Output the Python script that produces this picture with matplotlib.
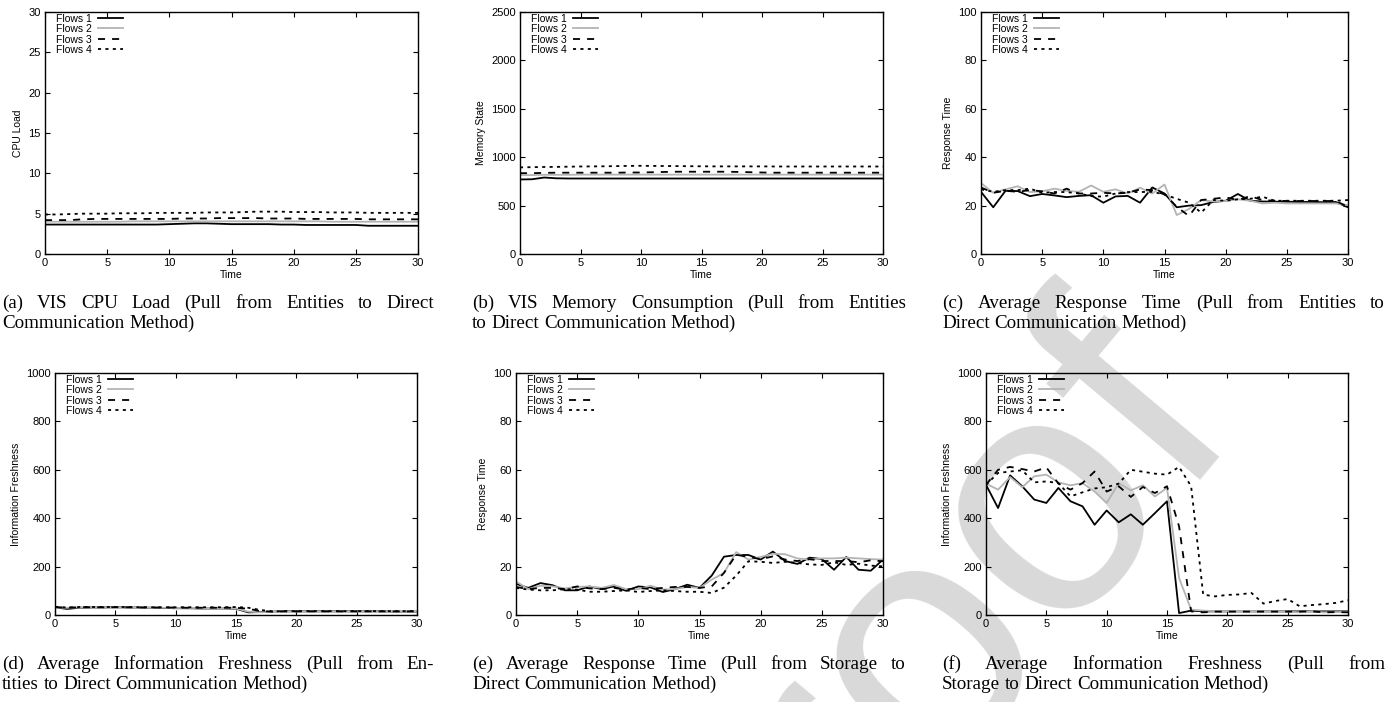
import matplotlib
matplotlib.use("Agg")
import matplotlib.pyplot as plt
import numpy as np

# ---------------- data ----------------
time = list(range(31))
series_labels = ["Flows 1", "Flows 2", "Flows 3", "Flows 4"]

# (a) CPU load
cpu_f1 = [3.65, 3.65, 3.65, 3.65, 3.65, 3.65, 3.65, 3.65, 3.65, 3.65, 3.7, 3.75, 3.8, 3.8, 3.75, 3.7,
          3.7, 3.7, 3.7, 3.65, 3.65, 3.6, 3.6, 3.6, 3.6, 3.6, 3.5, 3.5, 3.5, 3.5, 3.5]
cpu_f2 = [4.0, 4.0, 4.0, 4.0, 4.0, 4.0, 4.0, 4.05, 4.05, 4.05, 4.05, 4.05, 4.05, 4.05, 4.05, 4.05,
          4.05, 4.05, 4.05, 4.05, 4.05, 4.05, 4.05, 4.0, 4.0, 4.0, 4.0, 4.0, 4.0, 4.0, 4.0]
cpu_f3 = [4.2, 4.2, 4.2, 4.3, 4.35, 4.35, 4.35, 4.35, 4.35, 4.35, 4.35, 4.4, 4.4, 4.4, 4.45, 4.45,
          4.45, 4.45, 4.4, 4.4, 4.4, 4.35, 4.35, 4.35, 4.35, 4.35, 4.3, 4.3, 4.3, 4.3, 4.3]
cpu_f4 = [4.9, 4.9, 4.95, 5.0, 5.0, 5.0, 5.05, 5.05, 5.05, 5.1, 5.1, 5.1, 5.1, 5.15, 5.15, 5.15,
          5.2, 5.25, 5.25, 5.25, 5.2, 5.2, 5.2, 5.15, 5.15, 5.15, 5.1, 5.1, 5.1, 5.1, 5.1]

# (b) memory
mem_f1 = [770, 772, 790, 782, 780, 780, 780, 780, 780, 780, 780, 780, 780, 780, 780, 780,
          780, 780, 780, 780, 780, 780, 780, 780, 780, 780, 780, 780, 780, 780, 780]
mem_f2 = [815, 815, 818, 818, 818, 820, 820, 820, 820, 820, 820, 820, 820, 820, 820, 820,
          820, 820, 820, 820, 820, 820, 820, 820, 820, 820, 820, 820, 820, 820, 820]
mem_f3 = [835, 835, 838, 840, 840, 840, 840, 840, 840, 842, 842, 845, 848, 850, 850, 850,
          850, 850, 848, 845, 842, 840, 840, 840, 840, 840, 840, 840, 840, 840, 840]
mem_f4 = [895, 897, 899, 900, 902, 904, 905, 906, 908, 910, 911, 910, 909, 908, 907, 906,
          905, 905, 905, 905, 905, 904, 904, 904, 904, 904, 904, 904, 904, 904, 904]

# (c) response time (pull from entities)
rtc_f1 = [25.7, 19.3, 26.1, 26.0, 23.9, 24.8, 24.2, 23.5, 24.0, 24.3, 21.2, 23.8, 24.0, 21.2, 27.5, 25.0,
          19.3, 20.0, 20.2, 21.5, 22.0, 24.8, 22.0, 21.7, 21.6, 21.6, 21.5, 21.5, 21.4, 21.5, 19.3]
rtc_f2 = [29.3, 25.3, 26.7, 28.0, 25.6, 25.9, 27.0, 26.1, 25.7, 28.3, 25.7, 26.7, 25.0, 27.4, 25.0, 28.7,
          16.1, 18.6, 22.3, 21.7, 21.9, 22.6, 22.0, 20.9, 21.2, 20.9, 20.9, 20.9, 20.9, 20.9, 20.2]
rtc_f3 = [27.5, 25.3, 26.1, 25.7, 26.4, 25.9, 25.0, 27.0, 25.0, 25.0, 25.3, 25.0, 25.3, 26.7, 26.4, 24.6,
          19.5, 15.7, 22.3, 22.8, 23.4, 22.3, 23.9, 22.3, 22.0, 21.9, 21.9, 21.9, 21.9, 21.9, 19.5]
rtc_f4 = [26.7, 25.7, 26.4, 26.4, 27.0, 25.3, 25.6, 25.6, 25.0, 23.9, 23.7, 25.0, 25.6, 25.6, 25.7, 24.6,
          22.8, 21.2, 17.1, 22.3, 22.0, 22.6, 22.8, 23.7, 22.0, 22.0, 22.0, 22.0, 22.0, 22.0, 22.3]

# (d) information freshness (pull from entities)
ifd_f1 = [32, 25, 30, 31, 31, 32, 31, 31, 30, 29, 28, 28, 27, 27, 27, 26,
          11, 12, 14, 15, 15, 15, 15, 15, 15, 15, 15, 15, 14, 14, 14]
ifd_f2 = [31, 30, 31, 31, 31, 31, 31, 31, 30, 30, 29, 29, 29, 28, 28, 27,
          14, 11, 13, 14, 14, 14, 14, 14, 14, 14, 14, 14, 14, 14, 14]
ifd_f3 = [33, 30, 32, 32, 32, 32, 32, 31, 31, 31, 31, 30, 30, 30, 30, 30,
          26, 16, 14, 15, 15, 15, 15, 15, 15, 15, 15, 15, 15, 15, 15]
ifd_f4 = [34, 31, 33, 33, 33, 33, 33, 32, 32, 32, 32, 32, 32, 32, 32, 33,
          30, 21, 15, 16, 16, 16, 16, 16, 16, 16, 16, 16, 16, 16, 16]

# (e) response time (pull from storage)
rte_f1 = [12.9, 11.2, 13.2, 12.3, 10.2, 10.2, 11.8, 10.7, 11.8, 10.0, 11.8, 11.4, 9.5, 10.7, 12.5, 11.2,
          16.3, 24.1, 24.8, 24.8, 22.9, 26.2, 22.3, 21.1, 23.7, 23.1, 18.7, 24.0, 18.7, 18.3, 22.9]
rte_f2 = [13.9, 10.7, 12.1, 11.8, 11.0, 11.6, 11.8, 11.2, 12.4, 10.7, 10.7, 12.1, 10.5, 10.7, 11.6, 11.2,
          14.6, 17.4, 26.0, 22.9, 24.0, 25.3, 25.1, 23.4, 22.9, 23.4, 23.4, 23.7, 23.4, 23.1, 22.9]
rte_f3 = [11.6, 10.7, 11.2, 11.2, 10.7, 11.8, 11.0, 10.7, 11.2, 10.5, 11.2, 10.7, 11.2, 11.6, 11.6, 11.2,
          11.8, 17.4, 24.9, 24.0, 23.1, 24.2, 22.9, 22.3, 23.1, 22.3, 22.3, 22.3, 21.8, 22.6, 22.2]
rte_f4 = [11.2, 10.5, 10.2, 10.2, 10.7, 10.5, 9.6, 9.6, 9.9, 10.2, 9.5, 9.9, 10.2, 9.9, 9.6, 9.6,
          9.1, 11.3, 16.3, 22.2, 22.0, 21.5, 22.0, 21.5, 20.9, 20.7, 21.8, 20.7, 21.2, 20.4, 20.1]

# (f) information freshness (pull from storage)
iff_f1 = [538, 442, 577, 532, 477, 463, 525, 470, 449, 373, 432, 383, 416, 373, 421, 470,
          8, 18, 15, 15, 15, 15, 15, 15, 15, 15, 15, 15, 15, 15, 15]
iff_f2 = [543, 518, 570, 528, 573, 580, 548, 536, 545, 510, 463, 545, 515, 536, 490, 525,
          153, 22, 18, 16, 16, 16, 16, 15, 15, 14, 11, 14, 11, 12, 13]
iff_f3 = [538, 600, 612, 603, 593, 610, 543, 518, 545, 593, 510, 532, 488, 529, 504, 532,
          366, 15, 11, 14, 14, 14, 14, 14, 14, 14, 14, 15, 11, 12, 11]
iff_f4 = [538, 587, 593, 598, 548, 552, 545, 490, 507, 523, 528, 543, 600, 592, 584, 580,
          612, 532, 84, 77, 83, 85, 91, 47, 58, 66, 36, 41, 45, 50, 61]

panels = [
    dict(series=[cpu_f1, cpu_f2, cpu_f3, cpu_f4], ylabel="CPU Load", ylim=30, ystep=5,
         box=(45, 12, 418, 254),
         caption=["(a) VIS CPU Load (Pull from Entities to Direct", "Communication Method)"],
         cap_x=(2, 434)),
    dict(series=[mem_f1, mem_f2, mem_f3, mem_f4], ylabel="Memory State", ylim=2500, ystep=500,
         box=(520, 12, 883, 254),
         caption=["(b) VIS Memory Consumption (Pull from Entities", "to Direct Communication Method)"],
         cap_x=(472, 906)),
    dict(series=[rtc_f1, rtc_f2, rtc_f3, rtc_f4], ylabel="Response Time", ylim=100, ystep=20,
         box=(981, 12, 1348, 254),
         caption=["(c) Average Response Time (Pull from Entities to", "Direct Communication Method)"],
         cap_x=(942, 1385)),
    dict(series=[ifd_f1, ifd_f2, ifd_f3, ifd_f4], ylabel="Information Freshness", ylim=1000, ystep=200,
         box=(55, 373, 417, 615),
         caption=["(d) Average Information Freshness (Pull from En-", "tities to Direct Communication Method)"],
         cap_x=(2, 434)),
    dict(series=[rte_f1, rte_f2, rte_f3, rte_f4], ylabel="Response Time", ylim=100, ystep=20,
         box=(516, 373, 883, 615),
         caption=["(e) Average Response Time (Pull from Storage to", "Direct Communication Method)"],
         cap_x=(472, 906)),
    dict(series=[iff_f1, iff_f2, iff_f3, iff_f4], ylabel="Information Freshness", ylim=1000, ystep=200,
         box=(986, 373, 1348, 615),
         caption=["(f) Average Information Freshness (Pull from", "Storage to Direct Communication Method)"],
         cap_x=(942, 1385)),
]

# ---------------- style ----------------
W, H = 1388, 702
DPI = 100
LW = 1.3
styles = [
    dict(color="black", lw=LW, ls="-"),
    dict(color="#b4b4b4", lw=LW, ls="-"),
    dict(color="black", lw=LW, ls=(0, (3.9, 3.9))),
    dict(color="black", lw=LW, ls=(0, (1.7, 2.4))),
]
SANS = "Liberation Sans"
SERIF = "Liberation Serif"
FS = 7.5
TICK_FS = 8
CAP_FS = 13.7

fig = plt.figure(figsize=(W / DPI, H / DPI), dpi=DPI)
fig.patch.set_facecolor("white")

# watermark (behind the plots)
fig.text(710 / W, 1 - 1032 / H, "Proof", fontsize=245, family=SANS, color="#d9d9d9",
         rotation=50, rotation_mode="anchor", ha="left", va="baseline", zorder=0)


def px_rect(box):
    x0, y0, x1, y1 = box
    return [x0 / W, 1 - y1 / H, (x1 - x0) / W, (y1 - y0) / H]


for p in panels:
    ax = fig.add_axes(px_rect(p["box"]))
    ax.set_facecolor("none")
    ax.set_zorder(2)
    for s, lab, st in zip(p["series"], series_labels, styles):
        ax.plot(time, s, label=lab, color=st["color"], lw=st["lw"], linestyle=st["ls"])
    ax.set_xlim(0, 30)
    ax.set_ylim(0, p["ylim"])
    ax.set_xticks(np.arange(0, 31, 5))
    ax.set_yticks(np.arange(0, p["ylim"] + 1, p["ystep"]))
    ax.tick_params(direction="in", top=True, right=True, length=3.5, width=0.8,
                   labelsize=TICK_FS, pad=3)
    for lbl in ax.get_xticklabels() + ax.get_yticklabels():
        lbl.set_family(SANS)
    for sp in ax.spines.values():
        sp.set_linewidth(1.0)
    ax.set_xlabel("Time", fontsize=FS, family=SANS, labelpad=1)
    ax.set_ylabel(p["ylabel"], fontsize=FS, family=SANS, labelpad=4)
    ax.legend(loc="upper left", bbox_to_anchor=(0.025, 1.0), markerfirst=False, frameon=False,
              handlelength=2.4, handletextpad=0.6, labelspacing=0.05,
              borderaxespad=0.0, borderpad=0.15, prop=dict(family=SANS, size=FS))

# ---------------- justified captions ----------------
renderer = fig.canvas.get_renderer()


def caption_line(text, x0, x1, y_base, justify):
    words = text.split(" ")
    objs = []
    widths = []
    for w in words:
        t = fig.text(0, 0, w, fontsize=CAP_FS, family=SERIF, ha="left", va="baseline")
        widths.append(t.get_window_extent(renderer).width)
        objs.append(t)
    if justify and len(words) > 1:
        gap = (x1 - x0 - sum(widths)) / (len(words) - 1)
    else:
        gap = CAP_FS * DPI / 72 * 0.25
    x = x0
    for t, wd in zip(objs, widths):
        t.set_position((x / W, 1 - y_base / H))
        x += wd + gap


for p in panels:
    x0, x1 = p["cap_x"]
    top = p["box"][3]
    base1 = top + 54
    caption_line(p["caption"][0], x0, x1, base1, True)
    caption_line(p["caption"][1], x0, x1, base1 + 20, False)

fig.savefig("out.png", dpi=DPI, facecolor="white")
